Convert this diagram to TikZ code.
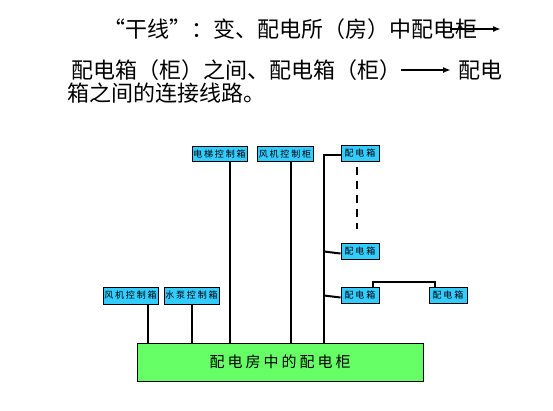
\documentclass[tikz,border=0pt]{standalone}
\usepackage{fontspec}
\newfontfamily\cjk{Noto Sans CJK SC}
\newfontfamily\cjksp[LetterSpace=20]{Noto Sans CJK SC}
\usetikzlibrary{arrows.meta, positioning}
\definecolor{boxcyan}{RGB}{51, 204, 255}
\definecolor{cabgreen}{RGB}{102, 255, 102}

\begin{document}
\begin{tikzpicture}[x=1pt, y=-1pt,
  txt/.style={inner sep=0pt, anchor=west, font=\cjk\fontsize{22}{26}\selectfont},
  cbox/.style={draw, fill=boxcyan, line width=1pt, minimum height=15pt, inner sep=1pt, font=\cjksp\fontsize{9}{10}\selectfont},
  wire/.style={line width=2pt},
  arr/.style={line width=2pt, -{Latex[length=8pt, width=6pt]}}]
  \useasboundingbox (0,0) rectangle (553,410);

  % Heading text
  \node[txt] (l1) at (103, 29) {“干线”：变、配电所（房）中配电柜};
  \node[txt] (l2a) at (71, 70) {配电箱（柜）之间、配电箱（柜）};
  \node[txt] (l2b) at (458, 70) {配电};
  \node[txt] (l3) at (67, 93) {箱之间的连接线路。};
  \coordinate (a1s) at (450, 29);
  \coordinate (a1e) at (501, 29);
  \draw[arr] (a1s) -- (a1e);
  \draw[arr] (l2a.east) -- ([xshift=-7pt]l2b.west);

  % Main cabinet
  \node[draw, fill=cabgreen, line width=1pt, minimum width=286pt, minimum height=38pt,
        font=\cjksp\fontsize{15}{18}\selectfont] (cab) at (280, 362) {配电房中的配电柜};

  % Control boxes
  \node[cbox, minimum width=55pt] (dt) at (219.5, 154) {电梯控制箱};
  \node[cbox, minimum width=56pt] (fjg) at (285, 154) {风机控制柜};
  \node[cbox, minimum width=55pt, minimum height=17pt] (fjx) at (130.5, 295.5) {风机控制箱};
  \node[cbox, minimum width=55pt, minimum height=17pt] (sb) at (191.5, 295.5) {水泵控制箱};

  % Distribution boxes
  \node[cbox, minimum width=38pt, minimum height=16pt] (pd1) at (360, 153) {配电箱};
  \node[cbox, minimum width=38pt, minimum height=16pt] (pd2) at (360, 251.5) {配电箱};
  \node[cbox, minimum width=38pt, minimum height=16pt] (pd3) at (360, 295.5) {配电箱};
  \node[cbox, minimum width=38pt, minimum height=16pt] (pd4) at (448, 295.5) {配电箱};

  % Feeder lines
  \draw[wire] ([xshift=17.5pt]fjx.south) -- ([xshift=17.5pt]fjx.south |- cab.north);
  \draw[wire] (sb.south) -- (sb.south |- cab.north);
  \draw[wire] ([xshift=10.5pt]dt.south) -- ([xshift=10.5pt]dt.south |- cab.north);
  \draw[wire] ([xshift=6pt]fjg.south) -- ([xshift=6pt]fjg.south |- cab.north);

  % Trunk to the distribution boxes
  \coordinate (tk) at (324, 0);
  \draw[wire] ([yshift=-2pt]pd1.west) -| (tk |- cab.north);
  \draw[wire] ([yshift=-2pt]pd2.west) -- (tk |- pd2.west);
  \draw[wire] ([yshift=-2pt]pd3.west) -- (tk |- pd3.west);
  \draw[wire, dash pattern=on 8pt off 6pt] ([xshift=-3pt, yshift=-5pt]pd1.south) -- ([xshift=-3pt, yshift=14pt]pd2.north);
  \draw[wire] ([xshift=13pt]pd3.north) -- ++(0, -5) -| ([xshift=-13pt]pd4.north);
\end{tikzpicture}
\end{document}
